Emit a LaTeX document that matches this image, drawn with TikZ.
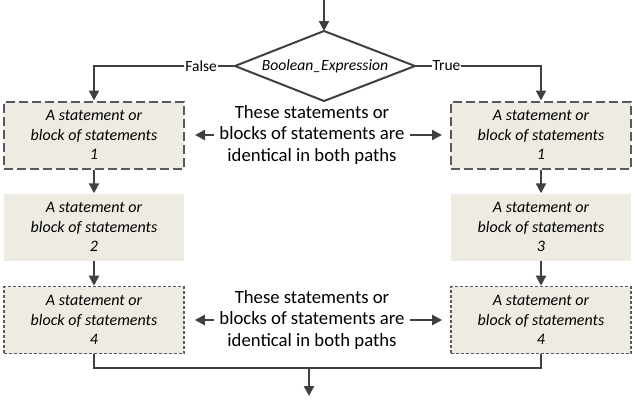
\documentclass[tikz,border=0pt]{standalone}
\usepackage{fontspec}
\setmainfont{Carlito}
\usetikzlibrary{arrows.meta,calc}
\definecolor{boxfill}{HTML}{EEECE2}
\definecolor{linec}{HTML}{404040}
\definecolor{bordc}{HTML}{595959}
\begin{document}
\begin{tikzpicture}[x=1pt,y=-1pt,
  stmt/.style={rectangle, fill=boxfill, minimum width=180pt, minimum height=67pt, inner sep=0pt, align=center,
    font=\fontsize{16}{19.8}\selectfont\itshape, text=black},
  dashbox/.style={stmt, draw=bordc, line width=2pt, dash pattern=on 9pt off 4pt},
  dotbox/.style={stmt, draw=bordc, line width=1.6pt, dash pattern=on 3pt off 2pt},
  conn/.style={draw=linec, line width=2.2pt, -{Triangle[length=10pt,width=10pt]}},
  plain/.style={draw=linec, line width=2.2pt},
  lbl/.style={fill=white, inner sep=1pt, font=\fontsize{15.5}{17}\selectfont, text=black},
  note/.style={align=center, font=\fontsize{18.7}{21.8}\selectfont, text=black, inner sep=0pt},
  sidearrow/.style={draw=linec, line width=2.2pt, -{Triangle[length=10pt,width=10pt]}, shorten <=5pt}
]
\useasboundingbox (0,0) rectangle (635,400);

% diamond
\coordinate (start) at (324,0);
\coordinate (dt) at (324,31);
\coordinate (dl) at (235,66);
\coordinate (dr) at (415,66);
\coordinate (db) at (324,101);
\draw[draw=linec, line width=2pt, line join=miter] (dt) -- (dr) -- (db) -- (dl) -- cycle;
\node[font=\fontsize{15.6}{17}\selectfont\itshape] (cond) at (325,66) {Boolean\_Expression};

% boxes
\node[dashbox] (b1) at (94,135) {A statement or\\block of statements\\1};
\node[dashbox] (b1r) at (541,135) {A statement or\\block of statements\\1};
\node[stmt] (b2) at (94,227) {A statement or\\block of statements\\2};
\node[stmt] (b3) at (541,227) {A statement or\\block of statements\\3};
\node[dotbox] (b4) at (94,320) {A statement or\\block of statements\\4};
\node[dotbox] (b4r) at (541,320) {A statement or\\block of statements\\4};

% notes
\node[note] (n1) at (312,135) {These statements or\\blocks of statements are\\identical in both paths};
\node[note] (n2) at (312,320) {These statements or\\blocks of statements are\\identical in both paths};

% connectors
\draw[conn] (start) -- (dt);
\draw[conn] (dl) -- node[lbl, pos=0.24] {False} (dl -| b1.north) -- (b1.north);
\draw[conn] (dr) -- node[lbl, pos=0.25] {True} (dr -| b1r.north) -- (b1r.north);
\draw[conn] (b1.south) -- (b2.north);
\draw[conn] (b1r.south) -- (b3.north);
\draw[conn] (b2.south) -- (b4.north);
\draw[conn] (b3.south) -- (b4r.north);

\coordinate (merge) at (309,368);
\coordinate (end) at (309,396);
\draw[plain] (b4.south) |- (merge) -| (b4r.south);
\draw[conn] (merge) -- (end);

% side arrows
\draw[sidearrow, shorten >=10pt] (n1.west |- b1.east) -- (b1.east);
\draw[sidearrow, shorten >=8pt] (n1.east |- b1r.west) -- (b1r.west);
\draw[sidearrow, shorten >=10pt] (n2.west |- b4.east) -- (b4.east);
\draw[sidearrow, shorten >=8pt] (n2.east |- b4r.west) -- (b4r.west);
\end{tikzpicture}
\end{document}
